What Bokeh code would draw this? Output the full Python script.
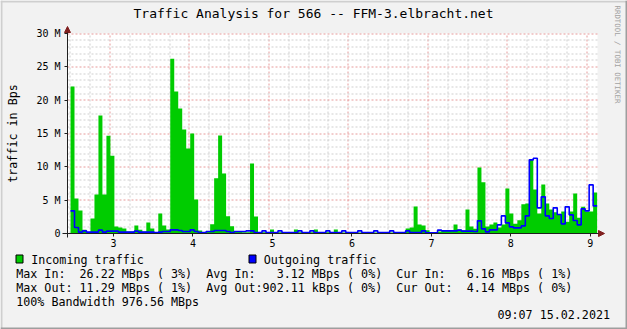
from bokeh.plotting import figure
from bokeh.models import FixedTicker, Label, BoxAnnotation, Arrow, NormalHead, Range1d
from bokeh.embed import file_html
from bokeh.resources import INLINE
import math

# ---------------- data ----------------
x_ticks = [3, 4, 5, 6, 7, 8, 9]
x_tick_labels = ["3", "4", "5", "6", "7", "8", "9"]
y_ticks = [0, 5, 10, 15, 20, 25, 30]
y_tick_labels = ["0", "5 M", "10 M", "15 M", "20 M", "25 M", "30 M"]

t_start = 2.459     # first sample (hours)
t_step = 0.0502     # sample width (hours)

incoming_mbps = [
    22.05, 5.25, 3.45, 0.55, 0.2, 2.25, 5.85, 17.7, 5.85, 14.65,
    11.65, 1.05, 0.9, 0.75, 0.3, 0.3, 1.2, 0.55, 0.3, 1.65,
    0.75, 0.2, 3.0, 1.2, 0.6, 26.22, 21.3, 18.75, 15.6, 12.75,
    15.0, 5.1, 0.45, 0.15, 0.3, 1.4, 8.3, 14.7, 9.0, 2.6,
    1.1, 0.25, 0.25, 0.2, 0.2, 10.5, 2.55, 0.2, 0.2, 0.2,
    0.6, 0.2, 0.2, 0.2, 0.2, 0.2, 0.6, 0.2, 0.2, 0.2,
    0.2, 0.6, 0.2, 0.2, 0.2, 0.2, 0.6, 0.15, 0.15, 0.15,
    0.15, 0.15, 0.15, 0.15, 0.15, 0.15, 0.15, 0.15, 0.15, 0.15,
    0.15, 0.15, 0.15, 0.15, 0.75, 0.9, 4.05, 1.35, 1.2, 0.5,
    0.15, 0.15, 0.3, 0.4, 0.4, 0.4, 1.35, 0.6, 0.5, 3.6,
    1.05, 0.7, 9.9, 7.7, 1.05, 1.35, 1.65, 0.9, 1.35, 6.75,
    3.0, 1.45, 2.0, 4.4, 4.5, 11.05, 6.6, 3.0, 7.35, 4.5,
    3.6, 3.2, 2.85, 3.3, 1.75, 3.3, 6.0, 2.35, 4.0, 3.3,
    3.3, 6.16,
]
outgoing_mbps = [
    3.4, 0.9, 0.2, 0.4, 0.2, 0.2, 0.2, 0.5, 0.2, 0.35,
    0.35, 0.35, 0.2, 0.2, 0.2, 0.2, 0.35, 0.2, 0.2, 0.2,
    0.2, 0.15, 0.2, 0.3, 0.3, 0.55, 0.55, 0.45, 0.3, 0.3,
    0.55, 0.3, 0.15, 0.15, 0.3, 0.3, 0.45, 0.45, 0.45, 0.3,
    0.15, 0.3, 0.3, 0.3, 0.4, 0.4, 0.15, 0.15, 0.4, 0.15,
    0.15, 0.15, 0.4, 0.15, 0.15, 0.15, 0.15, 0.4, 0.15, 0.15,
    0.4, 0.15, 0.15, 0.15, 0.4, 0.15, 0.15, 0.15, 0.4, 0.15,
    0.15, 0.15, 0.4, 0.15, 0.15, 0.15, 0.4, 0.15, 0.15, 0.15,
    0.4, 0.15, 0.15, 0.15, 0.4, 0.15, 0.15, 0.15, 0.4, 0.1,
    0.1, 0.1, 0.5, 0.4, 0.4, 0.4, 0.4, 0.5, 0.35, 0.35,
    0.35, 0.3, 1.9, 0.7, 0.25, 0.55, 0.55, 1.3, 2.65, 1.6,
    1.0, 0.85, 0.85, 1.15, 2.65, 11.05, 11.29, 3.85, 5.5, 2.65,
    2.25, 3.85, 2.85, 1.45, 4.0, 2.8, 1.95, 1.3, 3.7, 3.4,
    7.3, 4.14,
]

title_text = "Traffic Analysis for 566 -- FFM-3.elbracht.net"
y_axis_title = "traffic in Bps"
watermark = "RRDTOOL / TOBI OETIKER"
legend_in = "Incoming traffic"
legend_out = "Outgoing traffic"
stats_in = [("Max In:", 0), ("26.22 MBps ( 3%)", 9), ("Avg In:", 27),
            ("3.12 MBps ( 0%)", 37), ("Cur In:", 54), ("6.16 MBps ( 1%)", 64)]
stats_out = [("Max Out:", 0), ("11.29 MBps ( 1%)", 9),
             ("Avg Out:902.11 kBps ( 0%)", 27), ("Cur Out:", 54), ("4.14 MBps ( 0%)", 64)]
bandwidth_text = "100% Bandwidth 976.56 MBps"
stamp_text = "09:07 15.02.2021"

# ---------------- layout / styling ----------------
W, H = 627, 329
FL, FT, FR, FB = 67, 33, 597, 233          # data area in canvas pixels
X_LO, X_HI = 2.421, 9.090                  # data-area x extent (hours)
Y_LO, Y_HI = 0.0, 30.0                     # data-area y extent (MBps)
KX = (FR - FL) / (X_HI - X_LO)
KY = (FB - FT) / (Y_HI - Y_LO)
XA = X_LO - FL / KX
XB = XA + W / KX
YT = Y_HI + FT / KY
YB = YT - H / KY

MONO = "DejaVu Sans Mono"
GREEN = "#00CC00"
BLUE = "#0000FF"
BACK = "#F2F2F2"
ARROW = "#801F1F"
AXIS = "#1F1F1F"
MINOR = "#CFCFCF"
MAJOR = "#E69A9A"

n = len(incoming_mbps)
edges = [t_start + i * t_step for i in range(n + 1)]
in_step = incoming_mbps + [incoming_mbps[-1]]
out_step = outgoing_mbps + [outgoing_mbps[-1]]

p = figure(width=W, height=H, output_backend="svg", toolbar_location=None,
           x_range=Range1d(XA, XB), y_range=Range1d(YB, YT), min_border=0)
p.background_fill_color = BACK
p.border_fill_color = BACK
p.outline_line_color = None
p.xgrid.visible = False
p.ygrid.visible = False

# white canvas of the graph
p.add_layout(BoxAnnotation(left=X_LO, right=X_HI, bottom=Y_LO, top=Y_HI,
                           fill_color="white", fill_alpha=1, line_alpha=0,
                           level="image"))


def snap_x(x):
    return XA + (math.floor((x - XA) * KX) + 0.5) / KX


def snap_y(y):
    return YT - (math.floor((YT - y) * KY) + 0.5) / KY


# dotted grid
xg_major = [snap_x(t - 0.045) for t in x_ticks]
xg_minor = [snap_x(t - 0.045 + d) for t in [2] + x_ticks for d in (0.25, 0.5, 0.75)]
xg_minor = [x for x in xg_minor if X_LO < x < X_HI]
yg_major = [snap_y(v) for v in y_ticks[1:]]
yg_minor = [snap_y(v) for v in range(1, 30) if v % 5]
for xs, col in ((xg_minor, MINOR), (xg_major, MAJOR)):
    p.segment(x0=xs, y0=[Y_LO] * len(xs), x1=xs, y1=[Y_HI] * len(xs),
              line_color=col, line_width=1, line_dash="2 2")
for ys, col in ((yg_minor, MINOR), (yg_major, MAJOR)):
    p.segment(x0=[X_LO] * len(ys), y0=ys, x1=[X_HI] * len(ys), y1=ys,
              line_color=col, line_width=1, line_dash="2 2")

# data
p.varea_step(x=edges, y1=[0] * (n + 1), y2=in_step, step_mode="after",
             fill_color=GREEN)
p.step(x=edges, y=out_step, mode="after", line_color=BLUE, line_width=1.6)

# axes drawn at fixed positions inside the canvas
p.xaxis.fixed_location = Y_LO
p.xaxis.bounds = (X_LO, X_HI)
p.yaxis.fixed_location = X_LO
p.yaxis.bounds = (Y_LO, Y_HI)
p.xaxis.ticker = FixedTicker(ticks=x_ticks)
p.xaxis.major_label_overrides = dict(zip(x_ticks, x_tick_labels))
p.yaxis.ticker = FixedTicker(ticks=y_ticks)
p.yaxis.major_label_overrides = dict(zip(y_ticks, y_tick_labels))
for ax in (p.xaxis, p.yaxis):
    ax.axis_line_color = AXIS
    ax.major_tick_line_color = AXIS
    ax.major_tick_in = 0
    ax.major_tick_out = 3
    ax.minor_tick_line_color = None
    ax.major_label_text_font = MONO
    ax.major_label_text_font_size = "10px"
    ax.major_label_text_color = "black"
p.xaxis.major_label_standoff = 2
p.yaxis.major_label_standoff = 4


def sx(cx):
    return cx


def sy(cy):
    return H - cy


# axis arrows
p.add_layout(Arrow(x_start=sx(FL - 5), y_start=sy(FB), x_end=sx(FR + 7), y_end=sy(FB),
                   start_units="screen", end_units="screen",
                   line_color=AXIS, line_width=1,
                   end=NormalHead(size=6, fill_color=ARROW, line_color=ARROW)))
p.add_layout(Arrow(x_start=sx(FL), y_start=sy(FB + 4), x_end=sx(FL), y_end=sy(FT - 7),
                   start_units="screen", end_units="screen",
                   line_color=AXIS, line_width=1,
                   end=NormalHead(size=6, fill_color=ARROW, line_color=ARROW)))


def text(txt, cx, cy, size="11.7px", align="left", baseline="middle", angle=0.0,
         color="black"):
    p.add_layout(Label(x=sx(cx), y=sy(cy), x_units="screen", y_units="screen",
                       text=txt, text_font=MONO, text_font_size=size,
                       text_align=align, text_baseline=baseline, angle=angle,
                       text_color=color))


def box(cx0, cy0, cx1, cy1, fill, line=None):
    p.add_layout(BoxAnnotation(left=sx(cx0), right=sx(cx1), top=sy(cy0), bottom=sy(cy1),
                               left_units="screen", right_units="screen",
                               top_units="screen", bottom_units="screen",
                               fill_color=fill, fill_alpha=1.0,
                               line_color=line if line else fill,
                               line_alpha=1.0 if line else 0.0, line_width=1))


# canvas shading
box(0, 0, W, 2, "#CFCFCF")
box(0, 0, 2, H, "#CFCFCF")
box(W - 2, 0, W, H, "#9E9E9E")
box(0, H - 2, W, H, "#9E9E9E")

text(title_text, 313, 12.5, size="13px", align="center")
text(y_axis_title, 12, 133, align="center", angle=math.pi / 2)
text(watermark, 617, 5, size="7.4px", align="left", angle=-math.pi / 2, color="#A2A2A2")

CW = 7.04
X0 = 15.7
box(15.5, 254.5, 22.5, 262.5, GREEN, "black")
text(legend_in, 30.7, 259)
box(248.5, 254.5, 255.5, 262.5, BLUE, "black")
text(legend_out, 263.3, 259)
for s, col in stats_in:
    text(s, X0 + col * CW, 273.3)
for s, col in stats_out:
    text(s, X0 + col * CW, 287.3)
text(bandwidth_text, X0, 301.3)
text(stamp_text, 609.5, 314.5, align="right")

open("out.html", "w").write(file_html(p, INLINE))
